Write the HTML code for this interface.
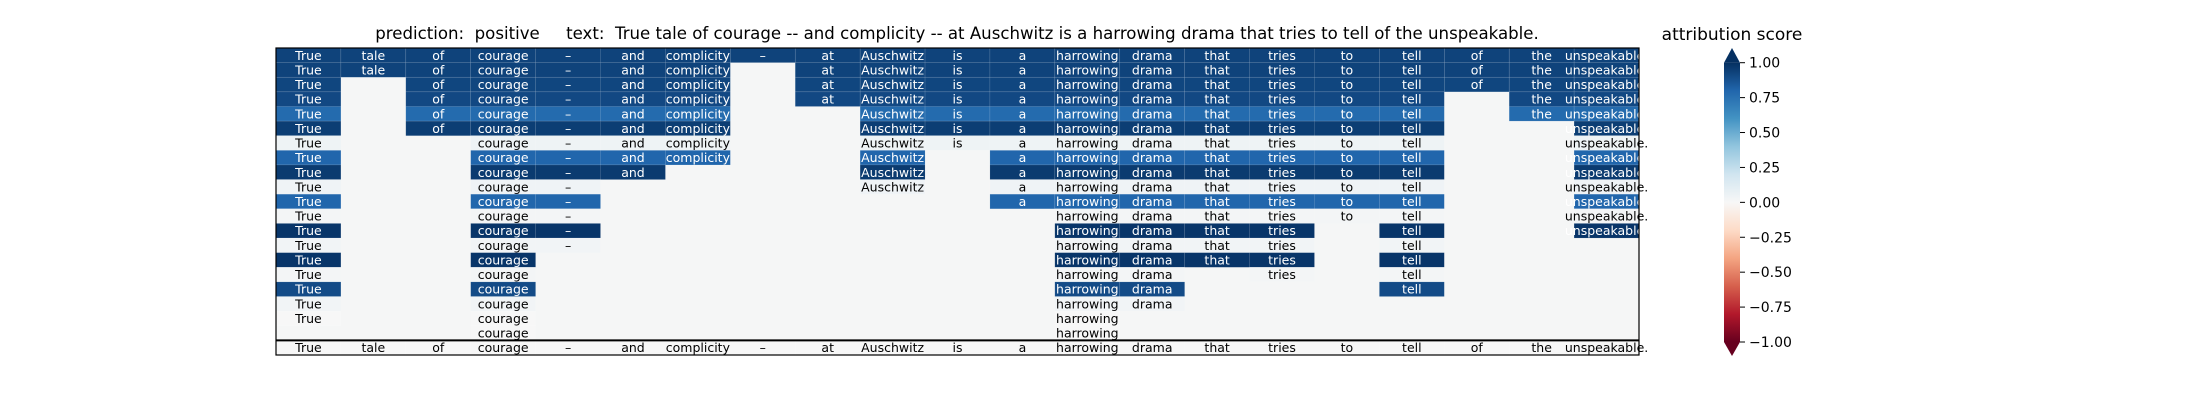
<!DOCTYPE html>
<html><head><meta charset="utf-8"><style>
html,body{margin:0;padding:0;background:#fff;}
svg{display:block;font-family:"DejaVu Sans","Liberation Sans",sans-serif;}
</style></head><body>
<svg id="chart" width="2200" height="400" viewBox="0 0 2200 400" xmlns="http://www.w3.org/2000/svg">
<text x="957" y="39" font-size="16.6" text-anchor="middle" xml:space="preserve">prediction:  positive     text:  True tale of courage -- and complicity -- at Auschwitz is a harrowing drama that tries to tell of the unspeakable.</text>
<g id="cells"></g>
<g id="cbar"></g>
</svg>
<script>
const tokens = ["True","tale","of","courage","\u2013","and","complicity","\u2013","at","Auschwitz","is","a","harrowing","drama","that","tries","to","tell","of","the","unspeakable."];
const rowScores = [0.93,0.93,0.92,0.91,0.78,0.95,0.05,0.8,0.96,0.04,0.8,0.02,0.98,0.03,0.98,0.02,0.9,0.03,0.0,0.0,0.0];
const rowTokens = [
 [0,1,2,3,4,5,6,7,8,9,10,11,12,13,14,15,16,17,18,19,20],
 [0,1,2,3,4,5,6,8,9,10,11,12,13,14,15,16,17,18,19,20],
 [0,2,3,4,5,6,8,9,10,11,12,13,14,15,16,17,18,19,20],
 [0,2,3,4,5,6,8,9,10,11,12,13,14,15,16,17,19,20],
 [0,2,3,4,5,6,9,10,11,12,13,14,15,16,17,19,20],
 [0,2,3,4,5,6,9,10,11,12,13,14,15,16,17,20],
 [0,3,4,5,6,9,10,11,12,13,14,15,16,17,20],
 [0,3,4,5,6,9,11,12,13,14,15,16,17,20],
 [0,3,4,5,9,11,12,13,14,15,16,17,20],
 [0,3,4,9,11,12,13,14,15,16,17,20],
 [0,3,4,11,12,13,14,15,16,17,20],
 [0,3,4,12,13,14,15,16,17,20],
 [0,3,4,12,13,14,15,17,20],
 [0,3,4,12,13,14,15,17],
 [0,3,12,13,14,15,17],
 [0,3,12,13,15,17],
 [0,3,12,13,17],
 [0,3,12,13],
 [0,3,12],
 [3,12],
 [0,1,2,3,4,5,6,7,8,9,10,11,12,13,14,15,16,17,18,19,20]
];
const cbTicks = [1,0.75,0.5,0.25,0,-0.25,-0.5,-0.75,-1];

const NS="http://www.w3.org/2000/svg";
const stops=[[-1,"#67001f"],[-0.8,"#b2182b"],[-0.6,"#d6604d"],[-0.4,"#f4a582"],[-0.2,"#fddbc7"],[0,"#f7f7f7"],[0.2,"#d1e5f0"],[0.4,"#92c5de"],[0.6,"#4393c3"],[0.8,"#2166ac"],[1,"#053061"]];
function hex(h){return [1,3,5].map(i=>parseInt(h.substr(i,2),16));}
function cmap(v){v=Math.max(-1,Math.min(1,v));for(let i=0;i<stops.length-1;i++){const[a,ca]=stops[i],[b,cb]=stops[i+1];if(v<=b){const t=(v-a)/(b-a),A=hex(ca),B=hex(cb);return "rgb("+A.map((x,k)=>Math.round(x+(B[k]-x)*t)).join(",")+")";}}return stops[10][1];}
function mk(tag,attrs,parent){const e=document.createElementNS(NS,tag);for(const k in attrs)e.setAttribute(k,attrs[k]);parent.appendChild(e);return e;}

const L=276,R=1639,T=48,B=355;
const nCols=tokens.length,nRows=rowScores.length;
const cw=(R-L)/nCols,rh=(B-T)/nRows;
const xPos=c=>L+c*cw, yPos=r=>T+r*rh;
const g=document.getElementById('cells');
mk('rect',{x:L,y:T,width:R-L,height:B-T,fill:"#f5f6f6"},g);
rowScores.forEach((s,r)=>{
  const dark=Math.abs(s)>0.5;
  rowTokens[r].forEach(c=>{
    const cell=mk('rect',{x:xPos(c),y:yPos(r),width:cw,height:rh,fill:cmap(s),stroke:"rgba(255,255,255,0.15)","stroke-width":0.6},g);
    
    
    const t=mk('text',{x:xPos(c)+cw/2,y:yPos(r)+rh/2+4.5,"font-size":12.5,"text-anchor":"middle",fill:dark?"#fff":"#000"},g);
    t.textContent=tokens[c];
    
    
  });
});
const sep=mk('line',{x1:L,x2:R,y1:yPos(nRows-1),y2:yPos(nRows-1),stroke:"#000","stroke-width":2},g);


const fr=mk('rect',{x:L,y:T,width:R-L,height:B-T,fill:"none",stroke:"#000","stroke-width":1.2},g);



const cb=document.getElementById('cbar');
const cx0=1724,cx1=1740,cTop=62.7,cBot=342;
const cy=v=>cTop+(1-v)/2*(cBot-cTop);
const defs=mk('defs',{},cb);
const grad=mk('linearGradient',{id:"rdbu",x1:0,y1:1,x2:0,y2:0},defs);
stops.forEach(([v,c])=>mk('stop',{offset:(v+1)/2,"stop-color":c},grad));
const bar=mk('rect',{x:cx0,y:cTop,width:cx1-cx0,height:cBot-cTop,fill:"url(#rdbu)"},cb);


const up=mk('polygon',{points:`${cx0},${cTop} ${(cx0+cx1)/2},48 ${cx1},${cTop}`,fill:stops[10][1]},cb);


const dn=mk('polygon',{points:`${cx0},${cBot} ${(cx0+cx1)/2},356 ${cx1},${cBot}`,fill:stops[0][1]},cb);


cbTicks.forEach(v=>{
  const ln=mk('line',{x1:cx1,x2:cx1+5,y1:cy(v),y2:cy(v),stroke:"#000","stroke-width":1},cb);
  
  
  const t=mk('text',{x:cx1+9,y:cy(v)+5,"font-size":14,fill:"#000"},cb);
  t.textContent=(v<0?"\u2212":"")+Math.abs(v).toFixed(2);
  
  
});
const ct=mk('text',{x:1732,y:40,"font-size":17,"text-anchor":"middle",fill:"#000"},cb);
ct.textContent="attribution score";


</script>
</body></html>
